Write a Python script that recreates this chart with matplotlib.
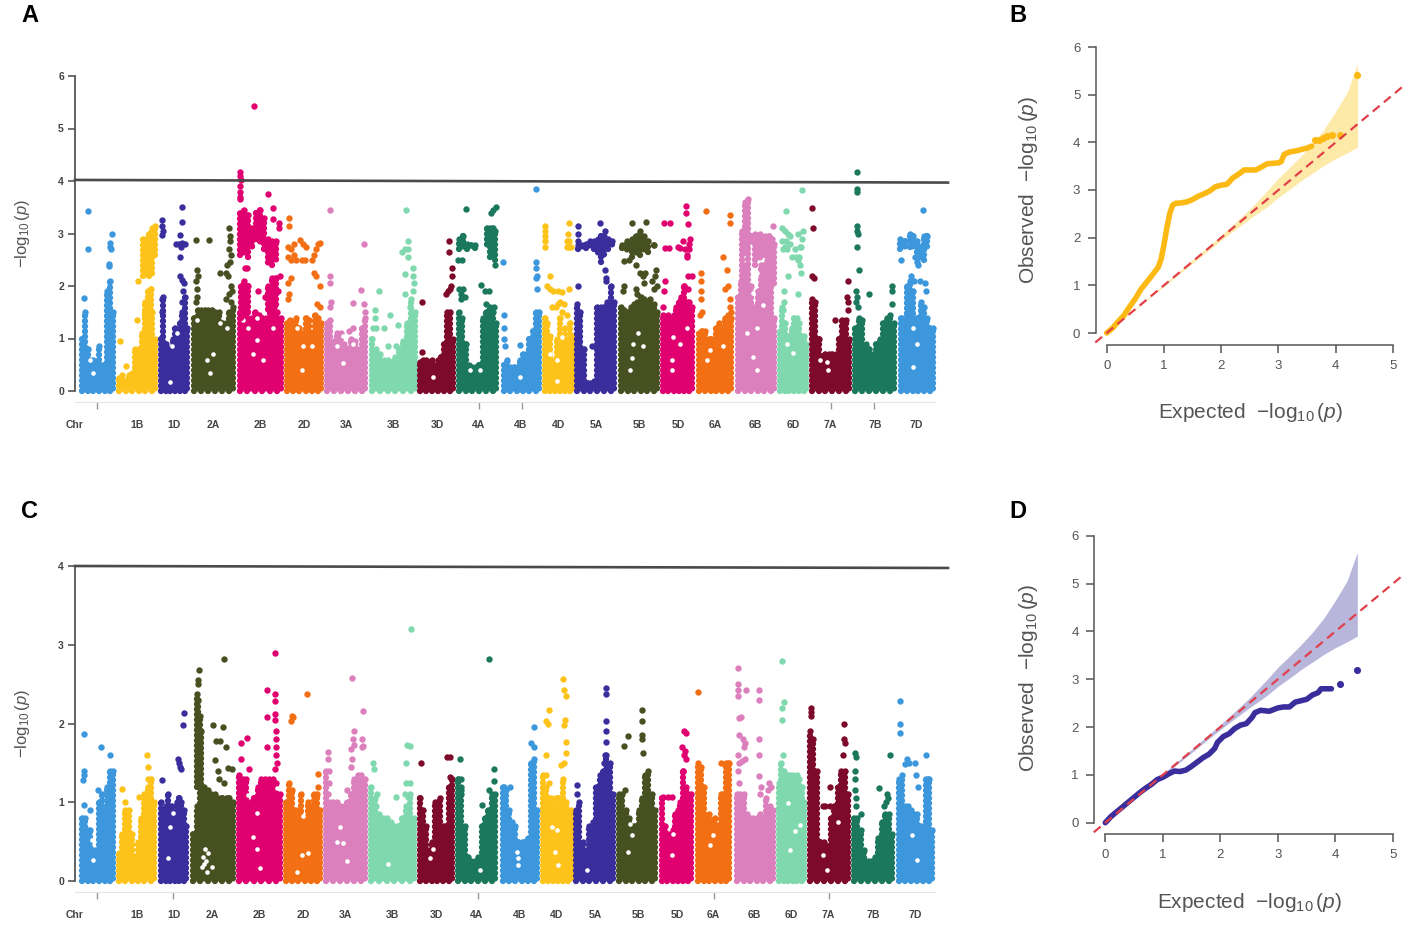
import matplotlib
matplotlib.use("Agg")
import matplotlib.pyplot as plt
import numpy as np

plt.rcParams['font.family'] = ['Liberation Sans', 'DejaVu Sans']
plt.rcParams['mathtext.fontset'] = 'custom'
plt.rcParams['mathtext.rm'] = 'Liberation Sans'
plt.rcParams['mathtext.it'] = 'Liberation Sans:italic'
plt.rcParams['mathtext.bf'] = 'Liberation Sans:bold'

W, H = 1417, 926

chroms = ["1A", "1B", "1D", "2A", "2B", "2D", "3A", "3B", "3D", "4A", "4B",
          "4D", "5A", "5B", "5D", "6A", "6B", "6D", "7A", "7B", "7D"]
colors = ["#3d97dd", "#fdc31a", "#3a2d9c", "#475021", "#e0006f", "#f36f14", "#dc7fbd",
          "#80d8ae", "#7d0a2a", "#1c785c", "#3d97dd", "#fdc31a", "#3a2d9c", "#475021",
          "#e0006f", "#f36f14", "#dc7fbd", "#80d8ae", "#7d0a2a", "#1c785c", "#3d97dd"]

# chromosome extents along the genome axis
a_starts = [82, 119, 161, 194, 240, 287, 327, 372, 420, 459, 504, 545, 577, 621, 663, 699, 738, 780, 812, 855, 901]
a_ends = [113, 155, 187, 233, 281, 321, 365, 415, 453, 496, 539, 572, 614, 657, 692, 731, 774, 806, 849, 894, 933]
c_starts = [82, 119, 161, 193, 239, 286, 326, 371, 420, 458, 503, 543, 576, 619, 662, 698, 737, 779, 810, 854, 899]
c_ends = [113, 154, 186, 233, 280, 320, 365, 414, 452, 495, 537, 571, 613, 655, 691, 729, 773, 804, 848, 892, 932]

a_labels_x = [75, 137, 174, 213, 260, 304, 346, 393, 437, 478, 521, 558, 596, 639, 678, 715, 755, 793, 830, 875, 916]
c_labels_x = [75, 137, 174, 212, 259, 303, 345, 392, 436, 477, 520, 557, 595, 638, 677, 713, 754, 791, 828, 873, 915]
x_labels = ["Chr", "1B", "1D", "2A", "2B", "2D", "3A", "3B", "3D", "4A", "4B", "4D",
            "5A", "5B", "5D", "6A", "6B", "6D", "7A", "7B", "7D"]
a_ticks = [75, 97, 137, 174, 260, 304, 393, 479, 522, 558, 639, 678, 715, 755, 793, 831, 874]
c_ticks = [75, 97, 137, 173, 259, 303, 392, 478, 520, 557, 638, 677, 714, 754, 791, 829, 873]

# panel A: dense mass height per column
a_1A = [1.0, 1.5, 0.8, 0.6, 0.6, 0.55, 0.85, 0.5, 0.5, 1.9, 2.1, 1.5]
a_1B = [0.25, 0.3, 0.2, 0.3, 0.35, 0.8, 0.8, 1.1, 1.5, 1.5, 1.5, 1.0]
a_1D = [1.0, 1.8, 0.9, 0.8, 0.8, 1.0, 1.2, 1.1, 1.3, 1.5, 1.8, 1.2]
a_2A = [1.4, 1.55, 1.55, 1.55, 1.55, 1.55, 1.5, 1.5, 1.3, 1.3, 1.5, 1.6]
a_2B = [1.5, 1.6, 1.5, 1.4, 1.5, 1.45, 1.4, 1.4, 1.6, 1.6, 1.5, 1.4]
a_2D = [1.3, 1.35, 1.3, 1.4, 1.2, 1.1, 1.4, 1.35, 1.1, 1.45, 1.4, 1.3]
a_3A = [1.3, 1.35, 0.95, 1.1, 1.1, 0.9, 0.8, 1.0, 0.95, 0.8, 1.2, 1.4]
a_3B = [1.0, 0.8, 0.7, 0.6, 0.6, 0.55, 0.65, 0.8, 0.95, 1.3, 1.75, 1.5]
a_3D = [0.55, 0.6, 0.6, 0.55, 0.6, 0.5, 0.6, 0.65, 0.9, 1.5, 1.5, 1.0]
a_4A = [1.5, 1.4, 0.9, 0.5, 0.45, 0.45, 0.5, 1.4, 1.5, 1.55, 1.5, 1.3]
a_4B = [0.5, 0.6, 0.45, 0.45, 0.45, 0.6, 0.7, 0.7, 1.0, 1.15, 1.5, 1.5]
a_4D = [1.4, 1.3, 1.05, 0.6, 0.5, 1.0, 1.4, 1.0, 1.2, 1.0, 1.3, 1.05]
a_5A = [1.65, 1.5, 0.8, 0.15, 0.15, 0.2, 1.6, 1.6, 1.6, 1.7, 2.0, 1.7]
a_5B = [1.6, 1.55, 1.5, 1.6, 1.65, 1.7, 1.8, 1.75, 1.7, 1.75, 1.65, 1.5]
a_5D = [1.45, 1.4, 1.45, 1.4, 1.45, 1.6, 1.7, 1.8, 2.0, 1.7, 1.7, 1.6]
a_6A = [1.1, 1.15, 1.15, 1.0, 1.0, 1.0, 1.2, 1.3, 1.2, 1.4, 1.45, 1.4]
a_6B = [1.8, 2.1, 2.4, 2.9, 2.0, 1.6, 1.9, 2.4, 2.4, 2.5, 2.4, 1.4]
a_6D = [1.15, 1.6, 1.3, 1.05, 1.05, 1.2, 1.4, 1.4, 1.3, 1.05, 1.05, 0.9]
a_7A = [1.75, 1.7, 1.0, 0.65, 0.7, 0.7, 0.7, 0.7, 1.0, 1.35, 1.35, 1.0]
a_7B = [1.2, 1.4, 1.35, 0.9, 0.8, 0.7, 0.9, 1.0, 1.3, 1.4, 1.45, 1.3]
a_7D = [1.4, 1.4, 2.0, 2.1, 1.9, 1.4, 1.4, 1.7, 1.6, 1.4, 1.2, 1.2]

# panel A: clusters above the mass, position, low, high
a_1B_bands = [(143, 2.2, 2.9), (146, 2.2, 2.9), (149, 2.2, 3.0), (152, 2.2, 3.1), (155, 2.6, 3.15),
              (145, 1.4, 1.7), (148, 1.4, 1.9), (151, 1.4, 1.95)]
a_2B_bands = [(240, 2.6, 3.4), (244, 2.6, 3.45), (248, 2.55, 3.35), (252, 2.7, 3.1), (256, 2.9, 3.4),
              (260, 2.8, 3.45), (264, 2.7, 3.3), (268, 2.4, 2.9), (272, 2.4, 2.85), (276, 2.45, 2.85),
              (241, 1.4, 2.0), (244, 1.5, 2.1), (248, 1.5, 2.0), (268, 1.5, 2.0), (272, 1.5, 2.15),
              (276, 1.6, 2.15)]
a_4A_bands = [(459, 2.7, 2.9), (463, 2.7, 2.95), (467, 2.7, 2.8), (471, 2.72, 2.78), (475, 2.72, 2.78),
              (487, 2.75, 3.1), (490, 2.55, 3.1), (493, 2.65, 3.1), (495, 2.5, 3.05)]
a_5A_bands = [(578, 2.7, 2.78), (582, 2.7, 2.78), (586, 2.72, 2.8), (590, 2.72, 2.85), (594, 2.7, 2.85),
              (598, 2.6, 2.9), (601, 2.45, 2.95), (604, 2.55, 2.95), (608, 2.7, 2.9), (612, 2.75, 2.85)]
a_5B_bands = [(622, 2.72, 2.78), (627, 2.65, 2.85), (632, 2.55, 2.9), (636, 2.6, 2.95), (640, 2.6, 3.05),
              (644, 2.65, 2.95), (648, 2.65, 2.85), (654, 2.72, 2.78)]
a_6B_bands = [(742, 2.0, 3.05), (745, 2.6, 3.6), (748, 2.9, 3.65), (751, 2.8, 2.95), (755, 2.4, 3.0),
              (760, 2.5, 3.0), (765, 2.6, 2.95), (769, 2.4, 2.95), (772, 2.3, 2.9), (774, 2.0, 2.8)]
a_7D_bands = [(900, 2.7, 2.9), (905, 2.7, 2.85), (910, 2.75, 3.0), (913, 2.7, 2.95), (917, 2.65, 2.85),
              (920, 2.5, 2.75), (924, 2.5, 2.95), (927, 2.7, 2.95)]

# panel A: single markers
a_1A_hits = [(84, 1.77), (88, 3.42), (88, 2.71), (109, 2.38), (109, 2.42), (110, 2.75), (112, 3.0), (110, 2.82), (111, 2.7)]
a_1B_hits = [(120, 0.95), (126, 0.47), (138, 2.1), (137, 1.35)]
a_1D_hits = [(162, 3.25), (162, 3.15), (163, 3.05), (162, 2.97), (182, 3.5), (182, 3.22), (180, 2.97), (176, 2.8),
             (179, 2.8), (182, 2.82), (185, 2.8), (180, 2.55), (181, 2.75), (180, 2.2), (182, 2.12), (184, 2.05),
             (183, 1.9), (162, 1.75), (162, 1.5), (182, 1.7)]
a_2A_hits = [(196, 2.87), (209, 2.87), (197, 2.3), (196, 2.1), (197, 1.95), (198, 2.2), (196, 1.7), (197, 1.8), (220, 2.25),
             (227, 2.4), (228, 2.2), (226, 2.25), (229, 3.1), (230, 2.95), (230, 2.85), (229, 2.7), (231, 2.6), (230, 2.45),
             (231, 2.0), (229, 1.85), (226, 1.75), (232, 1.9), (231, 1.7)]
a_2B_hits = [(254, 5.42), (240, 4.18), (240, 4.1), (241, 4.02), (240, 3.9), (240, 3.8), (240, 3.65), (240, 3.7), (268, 3.75),
             (273, 3.48), (273, 3.27), (279, 3.2), (279, 3.1), (247, 2.35), (245, 2.35), (258, 1.9), (265, 1.8), (280, 2.2),
             (278, 1.9)]
a_2D_hits = [(289, 3.3), (289, 3.15), (288, 2.75), (291, 2.7), (294, 2.8), (288, 2.55), (291, 2.5), (294, 2.6), (296, 2.5),
             (300, 2.87), (303, 2.8), (302, 2.5), (305, 2.5), (306, 2.75), (312, 2.5), (314, 2.6), (316, 2.7), (318, 2.8),
             (320, 2.82), (288, 2.05), (291, 2.15), (289, 1.85), (288, 1.75), (314, 2.25), (316, 2.2), (320, 2.0), (317, 1.65),
             (320, 1.6)]
a_3A_hits = [(330, 3.45), (330, 2.2), (330, 2.05), (331, 1.7), (330, 1.6), (353, 1.68), (353, 1.2), (361, 1.92), (364, 2.8),
             (364, 1.65), (365, 1.5), (349, 1.15)]
a_3B_hits = [(406, 3.45), (379, 1.9), (375, 1.55), (375, 1.4), (373, 1.2), (376, 1.2), (384, 1.2), (390, 1.45), (388, 0.85),
             (396, 0.85), (398, 1.25), (405, 2.22), (405, 1.85), (402, 2.65), (405, 2.7), (408, 2.85), (408, 2.7), (408, 2.55),
             (413, 2.35), (413, 2.2), (414, 2.05), (413, 1.9), (410, 1.6)]
a_3D_hits = [(422, 1.7), (422, 0.75), (449, 2.85), (449, 2.65), (452, 2.35), (452, 2.2), (448, 1.9), (450, 1.95), (446, 1.85),
             (451, 2.0)]
a_4A_hits = [(466, 3.46), (493, 3.45), (491, 3.4), (496, 3.5), (458, 2.5), (462, 2.5), (459, 1.95), (463, 1.95), (461, 1.85),
             (465, 1.8), (461, 1.75), (481, 2.02), (485, 1.9), (489, 1.9), (495, 2.4), (486, 1.65), (490, 1.6), (494, 1.6)]
a_4B_hits = [(536, 3.85), (536, 2.45), (536, 2.35), (537, 2.2), (536, 2.15), (537, 1.95), (504, 1.45), (504, 1.2), (504, 1.0),
             (505, 0.85), (520, 0.88), (503, 2.45)]
a_4D_hits = [(545, 3.15), (545, 3.05), (545, 2.95), (545, 2.85), (545, 2.75), (569, 3.2), (568, 3.0), (567, 2.85), (569, 2.85),
             (567, 2.75), (569, 2.75), (571, 2.75), (550, 2.2), (547, 2.0), (550, 1.95), (553, 1.9), (558, 1.9), (562, 1.88),
             (569, 1.95), (560, 1.7), (558, 1.65), (556, 1.6), (564, 1.65), (562, 1.5), (567, 1.45), (552, 1.6)]
a_5A_hits = [(578, 3.15), (578, 3.0), (578, 2.85), (578, 2.0), (592, 0.85), (600, 3.2), (605, 3.05), (604, 2.85), (607, 2.88),
             (605, 2.3), (606, 2.15), (606, 2.1)]
a_5B_hits = [(632, 3.2), (646, 3.22), (624, 2.48), (629, 2.5), (636, 2.4), (640, 2.25), (643, 2.2), (645, 2.25), (656, 2.3),
             (655, 2.2), (652, 2.1), (657, 2.0), (654, 1.95), (624, 2.0), (623, 1.9), (636, 1.95), (637, 1.85), (644, 2.05)]
a_5D_hits = [(664, 3.2), (670, 3.2), (686, 3.52), (686, 3.4), (688, 3.18), (665, 2.72), (669, 2.72), (678, 2.75), (680, 2.72),
             (683, 2.85), (685, 2.7), (687, 2.6), (689, 2.7), (690, 2.9), (689, 2.8), (687, 2.55), (665, 2.1), (664, 1.9),
             (663, 1.6), (688, 2.2), (692, 2.2), (684, 2.0), (688, 1.95)]
a_6A_hits = [(706, 3.42), (730, 3.35), (730, 3.2), (723, 2.55), (727, 2.3), (701, 2.25), (701, 2.1), (701, 1.9), (701, 1.75),
             (700, 1.45), (702, 1.5), (725, 1.95), (728, 2.0), (730, 1.75), (730, 1.6), (731, 1.5)]
a_6B_hits = [(773, 3.15), (748, 1.8)]
a_6D_hits = [(786, 3.42), (802, 3.83), (782, 3.1), (785, 3.05), (788, 3.0), (798, 3.0), (803, 3.05), (802, 2.9), (782, 2.85),
             (785, 2.75), (790, 2.8), (795, 2.7), (801, 2.75), (798, 2.5), (783, 2.7), (787, 2.7), (786, 2.85), (790, 2.95),
             (792, 2.55), (796, 2.55), (800, 2.75), (799, 2.55), (800, 2.4), (801, 2.25), (788, 2.2), (784, 1.9), (798, 1.85),
             (784, 1.7), (783, 1.55)]
a_7A_hits = [(812, 3.48), (813, 3.1), (812, 2.2), (814, 2.15), (835, 1.35), (848, 2.1), (847, 1.8), (848, 1.7), (848, 1.55)]
a_7B_hits = [(857, 4.18), (857, 3.8), (857, 3.85), (857, 3.15), (857, 3.05), (858, 3.0), (857, 2.75), (859, 2.3), (856, 1.9),
             (857, 1.8), (856, 1.7), (858, 1.6), (869, 1.85), (892, 2.0), (892, 1.9), (892, 1.65)]
a_7D_hits = [(923, 3.45), (901, 2.5), (915, 2.55), (917, 2.45), (918, 2.4), (911, 2.2), (914, 2.1), (920, 2.1), (925, 2.05), (926, 1.9)]

# panel A: gaps in the mass
a_gaps = [(207, 0.6), (213, 0.7), (210, 0.35), (197, 1.35), (220, 1.3), (227, 1.2), (90, 0.6), (93, 0.35), (172, 0.85), (177, 1.1),
          (170, 0.18), (257, 0.97), (253, 0.7), (248, 1.2), (257, 1.4), (263, 0.6), (273, 1.2), (243, 1.35), (303, 0.85), (302, 0.4),
          (312, 0.85), (297, 1.2), (343, 0.53), (337, 0.85), (353, 0.9), (343, 1.05), (433, 0.27), (477, 0.65), (480, 0.4), (470, 0.4),
          (520, 0.27), (557, 0.6), (557, 0.2), (562, 1.03), (550, 0.7), (588, 0.46), (590, 0.27), (638, 1.1), (633, 0.9), (632, 0.62),
          (630, 0.4), (643, 0.85), (673, 1.03), (680, 0.9), (672, 0.4), (672, 0.6), (687, 1.2), (710, 0.78), (707, 0.6), (723, 0.85),
          (753, 2.37), (757, 2.25), (753, 1.86), (763, 1.63), (747, 1.1), (757, 1.2), (757, 0.4), (753, 0.65), (793, 0.72), (787, 0.9),
          (827, 0.56), (828, 0.4), (820, 0.6), (917, 0.9), (913, 0.46), (913, 1.2)]

# panel C: dense mass height per column
c_1A = [0.8, 0.8, 0.65, 0.65, 0.4, 0.4, 1.0, 1.1, 0.9, 1.2, 1.4, 1.4]
c_1B = [0.35, 0.6, 0.9, 0.9, 0.6, 0.3, 0.5, 0.8, 1.1, 1.2, 1.3, 1.0]
c_1D = [1.0, 0.9, 0.95, 1.1, 0.95, 0.95, 0.85, 1.0, 1.05, 1.0, 0.9, 0.7]
c_2A = [0.6, 0.95, 1.25, 1.2, 1.15, 1.1, 1.1, 1.05, 1.05, 1.05, 1.05, 1.0]
c_2B = [1.35, 1.3, 1.3, 1.0, 1.05, 1.2, 1.3, 1.3, 1.3, 1.3, 1.25, 1.1]
c_2D = [1.0, 1.25, 1.15, 0.9, 0.9, 1.1, 0.8, 1.0, 0.95, 1.1, 1.1, 0.9]
c_3A = [1.4, 1.0, 1.0, 1.0, 0.95, 0.95, 1.0, 1.1, 1.3, 1.35, 1.35, 1.3]
c_3B = [1.2, 1.05, 0.85, 0.8, 0.8, 0.75, 0.7, 0.7, 0.8, 0.95, 1.1, 0.8]
c_3D = [1.05, 0.9, 0.7, 0.4, 0.5, 1.0, 0.9, 1.05, 0.7, 0.7, 1.2, 1.3]
c_4A = [1.3, 1.1, 0.7, 0.3, 0.25, 0.25, 0.3, 0.7, 0.8, 0.9, 1.1, 1.1]
c_4B = [1.2, 1.15, 0.9, 0.75, 0.7, 0.5, 0.5, 0.5, 0.55, 1.5, 1.55, 0.9]
c_4D = [1.35, 1.2, 1.05, 1.05, 0.95, 1.05, 1.05, 1.05, 1.3, 1.0, 0.9, 0.9]
c_5A = [0.9, 1.0, 0.5, 0.4, 0.7, 0.75, 1.2, 1.35, 1.4, 1.6, 1.5, 1.1]
c_5B = [1.1, 1.1, 0.9, 0.8, 0.7, 0.7, 0.9, 1.05, 1.35, 1.4, 1.1, 0.9]
c_5D = [1.05, 0.7, 0.6, 0.6, 0.65, 0.85, 0.9, 1.0, 1.4, 1.2, 1.1, 1.1]
c_6A = [1.5, 1.45, 1.2, 0.8, 0.85, 0.75, 0.8, 0.7, 1.1, 1.1, 1.5, 1.5]
c_6B = [1.1, 1.1, 1.1, 0.85, 0.8, 0.8, 0.8, 0.85, 0.8, 1.05, 0.95, 0.9]
c_6D = [1.25, 1.5, 1.4, 1.3, 1.35, 1.35, 1.35, 1.25, 1.35, 1.3, 1.2, 1.0]
c_7A = [1.9, 1.8, 1.4, 0.5, 0.5, 0.45, 0.8, 0.95, 1.2, 1.4, 1.4, 1.1]
c_7B = [0.8, 0.8, 0.65, 0.4, 0.25, 0.25, 0.3, 0.55, 0.75, 0.85, 0.85, 0.6]
c_7D = [1.3, 1.35, 0.95, 0.95, 0.9, 0.85, 0.85, 0.7, 0.7, 1.3, 1.3, 0.65]

c_2A_bands = [(197, 1.2, 2.38), (198, 1.2, 2.3), (200, 1.2, 2.1), (201, 1.2, 1.9)]

c_1A_hits = [(84, 1.87), (84, 1.4), (84, 1.35), (83, 1.28), (84, 0.97), (101, 1.7), (110, 1.6), (98, 1.15), (90, 0.9)]
c_1B_hits = [(147, 1.6), (148, 1.45), (122, 1.17), (125, 1.0), (121, 0.1), (139, 1.07), (148, 1.3), (150, 1.2)]
c_1D_hits = [(162, 1.28), (184, 2.13), (183, 1.98), (178, 1.55), (179, 1.5), (180, 1.45), (181, 1.42)]
c_2A_hits = [(199, 2.68), (198, 2.55), (198, 2.5), (224, 2.82), (213, 1.98), (223, 1.95), (216, 1.78), (220, 1.78), (226, 1.7),
             (215, 1.54), (218, 1.4), (228, 1.43), (232, 1.42), (219, 1.3), (224, 1.25)]
c_2B_hits = [(241, 1.75), (247, 1.82), (241, 1.55), (267, 2.42), (275, 2.9), (275, 2.37), (275, 2.28), (267, 2.08), (275, 2.12),
             (275, 2.05), (267, 1.7), (276, 1.9), (276, 1.8), (276, 1.7), (276, 1.6), (277, 1.5), (275, 1.42), (249, 1.42)]
c_2D_hits = [(292, 2.1), (293, 2.08), (291, 2.03), (307, 2.37), (318, 1.36), (318, 1.2)]
c_3A_hits = [(352, 2.58), (363, 2.16), (328, 1.64), (328, 1.55), (329, 1.4), (354, 1.9), (353, 1.8), (354, 1.73), (351, 1.68),
             (352, 1.55), (351, 1.45), (362, 1.8), (363, 1.72), (362, 1.7), (347, 1.15), (329, 1.25), (328, 1.1)]
c_3B_hits = [(411, 3.2), (373, 1.5), (374, 1.42), (407, 1.73), (410, 1.72), (406, 1.5), (406, 1.25), (410, 1.25), (377, 1.1),
             (376, 0.95), (396, 1.07), (405, 1.1), (408, 1.07)]
c_3D_hits = [(421, 1.5), (450, 1.57), (447, 1.57), (450, 1.32)]
c_4A_hits = [(460, 1.55), (461, 1.3), (458, 1.3), (461, 1.2), (461, 1.15), (489, 2.82), (494, 1.42), (494, 1.27), (482, 0.97), (489, 1.15)]
c_4B_hits = [(504, 1.2), (510, 1.2), (534, 1.95), (531, 1.75), (534, 1.7)]
c_4D_hits = [(563, 2.56), (564, 2.42), (566, 2.35), (549, 2.17), (546, 2.03), (548, 2.0), (565, 2.05), (564, 1.98), (566, 1.77),
             (546, 1.6), (566, 1.62), (561, 1.47), (564, 1.5), (546, 1.35), (549, 1.25)]
c_5A_hits = [(577, 1.22), (577, 1.1), (606, 2.45), (606, 2.38), (606, 2.03), (606, 1.9), (606, 1.77), (605, 1.6), (604, 1.5)]
c_5B_hits = [(628, 1.84), (624, 1.72), (642, 2.17), (642, 2.03), (642, 1.85), (642, 1.8), (643, 1.62), (625, 1.15)]
c_5D_hits = [(663, 1.07), (668, 1.07), (672, 1.07), (684, 1.9), (686, 1.88), (682, 1.7), (685, 1.65), (684, 1.6), (686, 1.55), (683, 1.4)]
c_6A_hits = [(698, 2.4), (721, 1.5), (728, 1.5)]
c_6B_hits = [(738, 2.7), (738, 2.5), (738, 2.42), (746, 2.42), (738, 2.35), (759, 2.42), (759, 2.3), (739, 2.07), (741, 2.08),
             (739, 1.85), (743, 1.8), (744, 1.7), (745, 1.75), (759, 1.8), (738, 1.6), (745, 1.55), (739, 1.5), (742, 1.53),
             (738, 1.4), (739, 1.25), (759, 1.6), (759, 1.33), (761, 1.2), (760, 1.1), (769, 1.25), (771, 1.2), (768, 1.15)]
c_6D_hits = [(782, 2.8), (784, 2.27), (782, 2.2), (782, 2.05), (783, 1.6)]
c_7A_hits = [(811, 2.2), (811, 2.1), (811, 2.15), (844, 2.0), (844, 1.8), (845, 1.75), (843, 1.6), (830, 1.2), (825, 0.95),
             (830, 0.95), (835, 0.95), (823, 0.95)]
c_7B_hits = [(855, 1.62), (856, 1.58), (855, 1.4), (855, 1.3), (855, 1.15), (856, 1.05), (856, 0.95), (861, 0.85), (890, 1.6),
             (879, 1.18), (886, 1.0), (888, 1.05), (884, 0.95), (887, 1.1)]
c_7D_hits = [(900, 2.28), (900, 2.0), (900, 1.88), (907, 1.55), (905, 1.48), (909, 1.5), (915, 1.5), (916, 1.35), (918, 1.2),
             (926, 1.6), (928, 1.3), (927, 1.1)]

c_gaps = [(203, 0.3), (202, 0.18), (207, 0.12), (208, 0.35), (212, 0.18), (205, 0.41), (204, 0.22), (206, 0.25), (93, 0.27), (92, 0.52),
          (170, 0.69), (173, 0.86), (168, 0.29), (253, 0.56), (257, 0.41), (248, 1.09), (257, 0.86), (260, 0.16), (277, 1.18), (303, 0.82),
          (302, 0.33), (297, 0.12), (308, 0.35), (340, 0.69), (343, 0.48), (347, 0.25), (337, 0.5), (388, 0.22), (430, 0.29), (433, 0.41),
          (480, 0.14), (518, 0.29), (518, 0.2), (517, 0.37), (557, 0.65), (552, 0.69), (558, 0.2), (555, 0.37), (587, 0.14), (630, 0.73),
          (632, 0.58), (628, 0.37), (673, 0.6), (672, 0.33), (713, 0.58), (710, 0.46), (712, 1.0), (823, 0.33), (827, 0.14), (838, 0.75),
          (823, 0.73), (800, 0.71), (795, 0.63), (788, 0.99), (790, 0.39), (912, 0.58), (917, 0.27)]

# QQ plots
b_exp = [0, 0.1, 0.2, 0.3, 0.4, 0.5, 0.6, 0.7, 0.8, 0.9, 0.95, 1.0, 1.05, 1.1, 1.15, 1.2, 1.3, 1.4, 1.5, 1.6, 1.7, 1.8, 1.9, 2.0,
         2.1, 2.2, 2.3, 2.4, 2.5, 2.6, 2.7, 2.8, 2.9, 3.0, 3.05, 3.1, 3.2, 3.3, 3.4, 3.5, 3.58]
b_obs = [0, 0.1, 0.24, 0.37, 0.55, 0.72, 0.92, 1.07, 1.22, 1.38, 1.55, 1.85, 2.2, 2.5, 2.68, 2.72, 2.73, 2.75, 2.8, 2.87, 2.92, 2.98,
         3.07, 3.1, 3.12, 3.25, 3.33, 3.42, 3.42, 3.42, 3.48, 3.55, 3.56, 3.57, 3.6, 3.75, 3.8, 3.82, 3.85, 3.88, 3.92]
b_tail_exp = [3.63, 3.7, 3.78, 3.85, 3.93, 4.08, 4.38]
b_tail_obs = [4.05, 4.05, 4.1, 4.13, 4.15, 4.15, 5.42]
d_exp = [0, 0.1, 0.2, 0.3, 0.4, 0.5, 0.6, 0.7, 0.8, 0.9, 1.0, 1.1, 1.2, 1.3, 1.4, 1.5, 1.6, 1.7, 1.8, 1.9, 1.95, 2.05, 2.15, 2.25,
         2.35, 2.45, 2.55, 2.6, 2.7, 2.85, 3.0, 3.1, 3.2, 3.3, 3.4, 3.5, 3.6, 3.7, 3.75, 3.85, 3.93]
d_obs = [0, 0.13, 0.23, 0.33, 0.43, 0.53, 0.63, 0.72, 0.8, 0.9, 0.95, 1.02, 1.08, 1.07, 1.1, 1.18, 1.27, 1.36, 1.43, 1.55, 1.68, 1.8,
         1.86, 1.97, 2.04, 2.07, 2.2, 2.3, 2.35, 2.33, 2.4, 2.42, 2.42, 2.52, 2.55, 2.58, 2.67, 2.72, 2.8, 2.8, 2.8]
d_tail_exp = [4.08, 4.38]
d_tail_obs = [2.9, 3.2]
band_x = [0, 1, 2, 2.5, 2.8, 3.0, 3.2, 3.4, 3.6, 3.8, 4.0, 4.2, 4.38]
band_hi = [0, 1.02, 2.05, 2.6, 2.98, 3.25, 3.48, 3.72, 3.98, 4.28, 4.65, 5.05, 5.65]
band_lo = [0, 0.98, 1.95, 2.4, 2.65, 2.85, 3.02, 3.2, 3.36, 3.52, 3.66, 3.78, 3.9]

grey = "#555555"


def px_axes(fig, left, top, right, bottom):
    return fig.add_axes([left / W, 1 - bottom / H, (right - left) / W, (bottom - top) / H])


def dotted_columns(ax, xs, lows, tops, color, zorder):
    # stacks of round dots, every other column shifted so the stacks interlock
    styles = [(i % 2 * 0.4, (0.01, 0.8)) for i in range(len(xs))]
    ax.vlines(xs, lows, tops, color=color, lw=4.6, linestyles=styles, capstyle="round", clip_on=False, zorder=zorder)
    ax.scatter(xs, tops, s=21, color=color, lw=0, clip_on=False, zorder=zorder)


def manhattan(fig, panel, box, ymax, starts, ends, label_x, ticks, line_y, gaps):
    ax = px_axes(fig, *box)
    for i, c in enumerate(chroms):
        tops = globals()[f"{panel}_{c}"]
        xs = np.linspace(starts[i], ends[i], len(tops))
        dotted_columns(ax, xs, np.zeros(len(tops)), tops, colors[i], 2)
    ax.scatter([g[0] for g in gaps], [g[1] for g in gaps], s=11, color="white", lw=0, zorder=3)
    for i, c in enumerate(chroms):
        bands = globals().get(f"{panel}_{c}_bands", [])
        hits = globals().get(f"{panel}_{c}_hits", [])
        if bands:
            b = np.array(bands)
            dotted_columns(ax, b[:, 0], b[:, 1], b[:, 2], colors[i], 4)
        if hits:
            h = np.array(hits)
            ax.scatter(h[:, 0], h[:, 1], s=21, color=colors[i], lw=0, zorder=4, clip_on=False)
    ax.plot([75, 948], line_y, color="#4a4a4a", lw=1.9, clip_on=False, zorder=5)

    ax.set_xlim(75, 948)
    ax.set_ylim(0, ymax)
    ax.spines["top"].set_visible(False)
    ax.spines["right"].set_visible(False)
    ax.spines["left"].set_color(grey)
    ax.spines["left"].set_linewidth(1.3)
    ax.spines["bottom"].set_position(("outward", 8))
    ax.spines["bottom"].set_color("#e4e4ea")
    ax.spines["bottom"].set_bounds(75, 935)
    ax.set_yticks(range(0, ymax + 1))
    ax.tick_params(axis="y", length=5, width=1.2, color=grey, labelcolor="#444444", labelsize=7.5, pad=3)
    for t in ax.get_yticklabels():
        t.set_fontweight("bold")
    ax.set_xticks(label_x, x_labels)
    ax.set_xticks(ticks, minor=True)
    ax.tick_params(axis="x", which="major", length=0, labelsize=7.5, labelcolor="#444444", pad=13)
    ax.tick_params(axis="x", which="minor", length=5, width=1, color="#999999")
    for t in ax.get_xticklabels():
        t.set_fontweight("bold")
    return ax


def qq(fig, box, color, fill, exp, obs, tail_x, tail_y, sp_left, sp_bottom):
    ax = px_axes(fig, *box)
    ax.fill_between(band_x, band_lo, band_hi, color=fill, lw=0, zorder=1)
    ax.plot([-0.2, 5.2], [-0.2, 5.2], color="#e0404a", ls=(0, (4, 2.5)), lw=1.6, clip_on=False, zorder=3)
    ax.plot(exp, obs, color=color, lw=4, solid_capstyle="round", zorder=2, clip_on=False)
    ax.scatter(tail_x, tail_y, s=26, color=color, lw=0, zorder=2, clip_on=False)
    ax.set_xlim(0, 5)
    ax.set_ylim(0, 6)
    ax.spines["top"].set_visible(False)
    ax.spines["right"].set_visible(False)
    for s, off in (("left", sp_left), ("bottom", sp_bottom)):
        ax.spines[s].set_position(("outward", off))
        ax.spines[s].set_color(grey)
        ax.spines[s].set_linewidth(1.1)
    ax.set_xticks(range(6))
    ax.set_yticks(range(7))
    ax.tick_params(length=6, width=1.1, color=grey, labelcolor="#555555", labelsize=9.5, pad=5)
    return ax


fig = plt.figure(figsize=(W / 100, H / 100), dpi=100)

manhattan(fig, "a", (75, 76, 948, 391), 6, a_starts, a_ends, a_labels_x, a_ticks, [4.02, 3.97], a_gaps)
manhattan(fig, "c", (75, 566, 948, 881), 4, c_starts, c_ends, c_labels_x, c_ticks, [4.0, 3.975], c_gaps)
qq(fig, (1106.7, 47, 1393, 333), "#fdb913", "#fde9a8", b_exp, b_obs, b_tail_exp, b_tail_obs, 8, 8.5)
qq(fig, (1105.3, 535.7, 1393, 822.7), "#3a2d9c", "#b9b6dc", d_exp, d_obs, d_tail_exp, d_tail_obs, 8, 8)

for x, y, s in ((22, 233, r"$-\log_{10}(\mathit{p})$"), (22, 723, r"$-\log_{10}(\mathit{p})$")):
    fig.text(x / W, 1 - y / H, s, rotation=90, ha="center", va="center", fontsize=12, color="#555555")
for x, y in ((1029, 190), (1028, 678)):
    fig.text(x / W, 1 - y / H, r"Observed  $-\log_{10}(\mathit{p})$", rotation=90, ha="center", va="center",
             fontsize=15, color="#555555")
for x, y in ((1250, 413), (1249, 903)):
    fig.text(x / W, 1 - y / H, r"Expected  $-\log_{10}(\mathit{p})$", ha="center", va="center",
             fontsize=15, color="#555555")
for s, x, y in (("A", 30, 15), ("B", 1018, 15), ("C", 30, 511), ("D", 1018, 511)):
    fig.text(x / W, 1 - y / H, s, ha="center", va="center", fontsize=17, fontweight="bold", color="black")

fig.savefig("out.png", dpi=100)
